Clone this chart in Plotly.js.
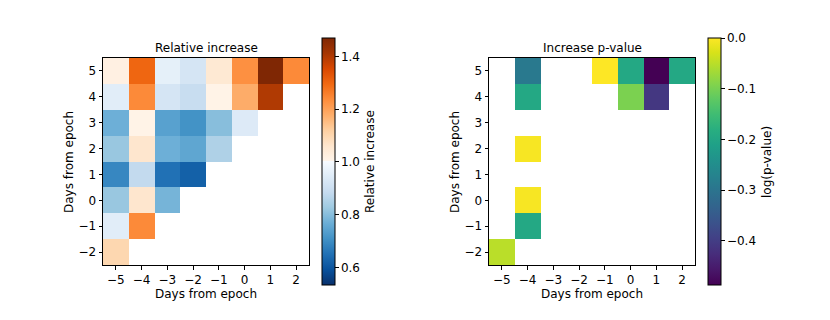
<!DOCTYPE html>
<html>
<head>
<meta charset="utf-8">
<script src="https://cdn.plot.ly/plotly-3.0.1.min.js"></script>
<style>
  html, body { margin: 0; padding: 0; background: #fff; }
  #grafico { width: 830px; height: 320px; }
</style>
</head>
<body>
<div id="grafico"></div>
<script>
// --- DATOS ---
const daysX = [-5, -4, -3, -2, -1, 0, 1, 2];
const daysY = [-2, -1, 0, 1, 2, 3, 4, 5];

// filas de abajo (-2) hacia arriba (5)
const relIncrease = [
    [1.10, null, null, null, null, null, null, null],
    [0.95, 1.24, null, null, null, null, null, null],
    [0.82, 1.06, 0.78, null, null, null, null, null],
    [0.69, 0.88, 0.65, 0.62, null, null, null, null],
    [0.82, 1.06, 0.77, 0.75, 0.85, null, null, null],
    [0.77, 1.01, 0.74, 0.71, 0.80, 0.94, null, null],
    [0.95, 1.24, 0.92, 0.89, 1.01, 1.18, 1.40, null],
    [1.02, 1.30, 0.96, 0.92, 1.05, 1.23, 1.47, 1.24]
];

const logPValue = [
    [-0.05, null, null, null, null, null, null, null],
    [null, -0.195, null, null, null, null, null, null],
    [null, -0.005, null, null, null, null, null, null],
    [null, null, null, null, null, null, null, null],
    [null, -0.005, null, null, null, null, null, null],
    [null, null, null, null, null, null, null, null],
    [null, -0.195, null, null, null, -0.097, -0.41, null],
    [null, -0.29, null, null, 0.0, -0.195, -0.487, -0.195]
];

const relTicks = [0.6, 0.8, 1.0, 1.2, 1.4];
const pTicks = [0.0, -0.1, -0.2, -0.3, -0.4];

// Blues invertido + Oranges
const azules = ['#08306b', '#08519c', '#2171b5', '#4292c6', '#6baed6', '#9ecae1', '#c6dbef', '#deebf7', '#f7fbff'];
const naranjas = ['#fff5eb', '#fee6ce', '#fdd0a2', '#fdae6b', '#fd8d3c', '#f16913', '#d94801', '#a63603', '#7f2704'];
const escalaDiv = [];
azules.forEach((c, i) => escalaDiv.push([i / 16, c]));
naranjas.forEach((c, i) => escalaDiv.push([0.5 + i / 16, c]));

const W = 830, H = 320;
const fx = px => px / W;
const fy = py => 1 - py / H;

const fuente = { family: 'DejaVu Sans, sans-serif', size: 12, color: '#000' };

const ejeX = (dom, anchor) => ({
    domain: dom, anchor, range: [-5.5, 2.5], tickvals: daysX,
    showgrid: false, zeroline: false, showline: true, mirror: true,
    linecolor: '#000', linewidth: 1, ticks: 'outside', ticklen: 3.5, tickcolor: '#000',
    title: { text: 'Days from epoch', font: fuente, standoff: 2 }, tickfont: fuente
});
const ejeY = (anchor) => ({
    domain: [fy(265), fy(58)], anchor, range: [-2.5, 5.5], tickvals: daysY,
    showgrid: false, zeroline: false, showline: true, mirror: true,
    linecolor: '#000', linewidth: 1, ticks: 'outside', ticklen: 3.5, tickcolor: '#000',
    tickfont: fuente
});

const barra = (xpx, ticks, fmt) => ({
    x: fx(xpx), xanchor: 'left', xref: 'paper', xpad: 0, ypad: 0,
    y: fy(161.5), yanchor: 'middle', len: 247, lenmode: 'pixels',
    thickness: 13, thicknessmode: 'pixels',
    outlinewidth: 1, outlinecolor: '#000',
    tickvals: ticks, tickformat: fmt, ticks: 'outside', ticklen: 3.5, tickcolor: '#000',
    tickfont: fuente
});

const trazaRel = {
    type: 'heatmap', x: daysX, y: daysY, z: relIncrease,
    xaxis: 'x', yaxis: 'y',
    colorscale: escalaDiv, zmin: 0.533, zmax: 1.47,
    colorbar: barra(322, relTicks, '.1f'),
    hoverongaps: false
};

const trazaP = {
    type: 'heatmap', x: daysX, y: daysY, z: logPValue,
    xaxis: 'x2', yaxis: 'y2',
    colorscale: 'Viridis', zmin: -0.487, zmax: 0,
    colorbar: barra(708, pTicks, '.1f'),
    hoverongaps: false
};

const layout = {
    width: W, height: H,
    margin: { l: 0, r: 0, t: 0, b: 0 },
    paper_bgcolor: '#fff', plot_bgcolor: '#fff',
    font: fuente,
    showlegend: false,
    xaxis: ejeX([fx(103), fx(309)], 'y'),
    yaxis: ejeY('x'),
    xaxis2: ejeX([fx(489), fx(695)], 'y2'),
    yaxis2: ejeY('x2'),
    annotations: [
        { text: 'Relative increase', x: fx(206), y: fy(48), xref: 'paper', yref: 'paper', showarrow: false, font: fuente, xanchor: 'center', yanchor: 'middle' },
        { text: 'Increase p-value', x: fx(592), y: fy(48), xref: 'paper', yref: 'paper', showarrow: false, font: fuente, xanchor: 'center', yanchor: 'middle' },
        { text: 'Days from epoch', x: fx(69), y: fy(162), xref: 'paper', yref: 'paper', showarrow: false, font: fuente, textangle: -90, xanchor: 'center', yanchor: 'middle' },
        { text: 'Days from epoch', x: fx(455), y: fy(162), xref: 'paper', yref: 'paper', showarrow: false, font: fuente, textangle: -90, xanchor: 'center', yanchor: 'middle' },
        { text: 'Relative increase', x: fx(370), y: fy(162), xref: 'paper', yref: 'paper', showarrow: false, font: fuente, textangle: -90, xanchor: 'center', yanchor: 'middle' },
        { text: 'log(p-value)', x: fx(767), y: fy(162), xref: 'paper', yref: 'paper', showarrow: false, font: fuente, textangle: -90, xanchor: 'center', yanchor: 'middle' }
    ]
};

Plotly.newPlot('grafico', [trazaRel, trazaP], layout, { staticPlot: true, displayModeBar: false });
</script>
</body>
</html>
